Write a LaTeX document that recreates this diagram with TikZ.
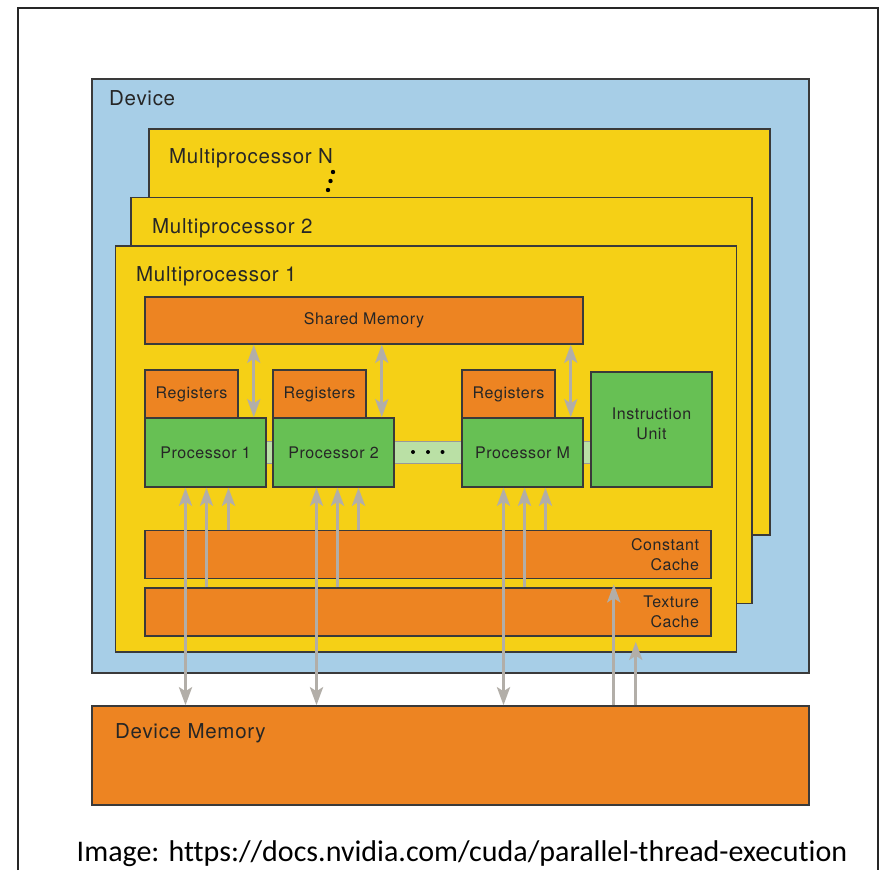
\documentclass[tikz,border=0pt]{standalone}
\usepackage{fontspec}
\setmainfont{TeX Gyre Heros}
\newfontfamily\diagfont[LetterSpace=3.5]{TeX Gyre Heros}
\newfontfamily\capfont[Ligatures=NoCommon]{Carlito}
\usetikzlibrary{arrows.meta, positioning, calc}
\definecolor{devblue}{RGB}{167, 206, 231}
\definecolor{mpyellow}{RGB}{245, 208, 22}
\definecolor{memorange}{RGB}{237, 132, 34}
\definecolor{procgreen}{RGB}{103, 192, 84}
\definecolor{busgreen}{RGB}{186, 224, 165}
\definecolor{arrowgray}{RGB}{178, 174, 168}
\definecolor{edgegray}{RGB}{58, 58, 58}
\definecolor{textgray}{RGB}{38, 38, 38}
\tikzset{
  box/.style      = {rectangle, draw=edgegray, line width=1.5pt, inner sep=0pt},
  devbox/.style   = {box, fill=devblue, minimum width=717pt},
  mpbox/.style    = {box, fill=mpyellow, minimum width=621pt, minimum height=406pt},
  membox/.style   = {box, fill=memorange, text=textgray, align=center, font=\diagfont\fontsize{16}{20}\selectfont},
  procbox/.style  = {box, fill=procgreen, text=textgray, align=center, font=\diagfont\fontsize{16}{20}\selectfont},
  title/.style    = {anchor=base west, inner sep=0pt, text=textgray, font=\diagfont\fontsize{20.5}{24}\selectfont},
  biarrow/.style  = {line width=3.4pt, arrowgray, {Stealth[length=18pt, width=13pt, inset=4pt]}-{Stealth[length=18pt, width=13pt, inset=4pt]}},
  uparrow/.style  = {line width=3.4pt, arrowgray, -{Stealth[length=18pt, width=13pt, inset=4pt]}},
}

\begin{document}
\begin{tikzpicture}[
    x=1pt, y=-1pt,
    regbox/.style={membox, minimum width=93pt, minimum height=48pt},
    corebox/.style={procbox, minimum width=121pt, minimum height=69pt},
    cachebox/.style={membox, minimum width=566pt, minimum height=48pt, text width=542pt, align=right},
    busbar/.style={rectangle, draw=gray!80, line width=1pt, fill=busgreen, minimum width=325pt, minimum height=22pt}
]
\useasboundingbox (0,0) rectangle (882,870);

% outer frame
\draw[line width=1.5pt, black!85] (18,870) -- (18,8) -- (878,8) -- (878,870);

% device
\node[devbox, minimum height=594pt] (device) at (450.5,376) {};
\node[title] (device_title) at (109,105.5) {Device};

% multiprocessors, back to front
\node[mpbox] (mpN) at (459.5,332) {};
\node[title] (mpN_title) at (169,163) {Multiprocessor N};
\fill[black] (333,172) circle (2.2pt) (330.5,181) circle (2.2pt) (328,190) circle (2.2pt);

\node[mpbox] (mp2) at (441.5,400.5) {};
\node[title] (mp2_title) at (152,233) {Multiprocessor 2};

\node[mpbox] (mp1) at (426,449) {};
\node[title] (mp1_title) at (136,281) {Multiprocessor 1};

% shared memory
\node[membox, minimum width=438pt, minimum height=47pt] (shmem) at (364,320.5) {Shared Memory};

% processor bus
\node[busbar] (bus) at (428.5,452) {};
\fill[black] (413,452) circle (2pt) (428,452) circle (2pt) (442.5,452) circle (2pt);

% registers and processors
\node[regbox] (reg1) at (191.5,394) {Registers};
\node[regbox] (reg2) at (319.5,394) {Registers};
\node[regbox] (regM) at (508.5,394) {Registers};
\node[corebox] (proc1) at (205.5,452.5) {Processor 1};
\node[corebox] (proc2) at (333.5,452.5) {Processor 2};
\node[corebox] (procM) at (522.5,452.5) {Processor M};
\node[procbox, minimum width=121pt, minimum height=115pt] (instr) at (651.5,429.5) {Instruction\\Unit\\[-8pt]};

% caches
\node[cachebox] (ccache) at (428,554.5) {Constant\\Cache};
\node[cachebox] (tcache) at (428,612) {Texture\\Cache};

% device memory
\node[devbox, fill=memorange, minimum height=99pt] (devmem) at (450.5,755.5) {};
\node[title] (devmem_title) at (115,738) {Device Memory};

% caption
\node[anchor=base, inner sep=0pt, font=\capfont\fontsize{30}{34}\selectfont] (caption) at (462,861) {Image: https://docs.nvidia.com/cuda/parallel-thread-execution};

% arrows: shared memory <-> processors
\coordinate (s1) at ([xshift=15pt]reg1.east);
\coordinate (s2) at ([xshift=15pt]reg2.east);
\coordinate (sM) at ([xshift=15pt]regM.east);
\draw[biarrow] (shmem.south -| s1) -- (proc1.north -| s1);
\draw[biarrow] (shmem.south -| s2) -- (proc2.north -| s2);
\draw[biarrow] (shmem.south -| sM) -- (procM.north -| sM);

% arrows: processor 1
\coordinate (p1a) at ([xshift=-20pt]proc1.south);
\coordinate (p1b) at ([xshift=1pt]proc1.south);
\coordinate (p1c) at ([xshift=23pt]proc1.south);
\draw[biarrow] (p1a) -- (devmem.north -| p1a);
\draw[uparrow] (tcache.north -| p1b) -- (p1b);
\draw[uparrow] (ccache.north -| p1c) -- (p1c);

% arrows: processor 2
\coordinate (p2a) at ([xshift=-17pt]proc2.south);
\coordinate (p2b) at ([xshift=4pt]proc2.south);
\coordinate (p2c) at ([xshift=25pt]proc2.south);
\draw[biarrow] (p2a) -- (devmem.north -| p2a);
\draw[uparrow] (tcache.north -| p2b) -- (p2b);
\draw[uparrow] (ccache.north -| p2c) -- (p2c);

% arrows: processor M
\coordinate (pMa) at ([xshift=-19pt]procM.south);
\coordinate (pMb) at ([xshift=2pt]procM.south);
\coordinate (pMc) at ([xshift=23pt]procM.south);
\draw[biarrow] (pMa) -- (devmem.north -| pMa);
\draw[uparrow] (tcache.north -| pMb) -- (pMb);
\draw[uparrow] (ccache.north -| pMc) -- (pMc);

% arrows: device memory -> caches
\coordinate (cc) at ([xshift=-98pt]ccache.south east);
\coordinate (tc) at ([xshift=-76pt]tcache.south east);
\draw[uparrow, shorten >=5pt] (devmem.north -| cc) -- (cc);
\draw[uparrow, shorten >=5pt] (devmem.north -| tc) -- (tc);

\end{tikzpicture}
\end{document}
